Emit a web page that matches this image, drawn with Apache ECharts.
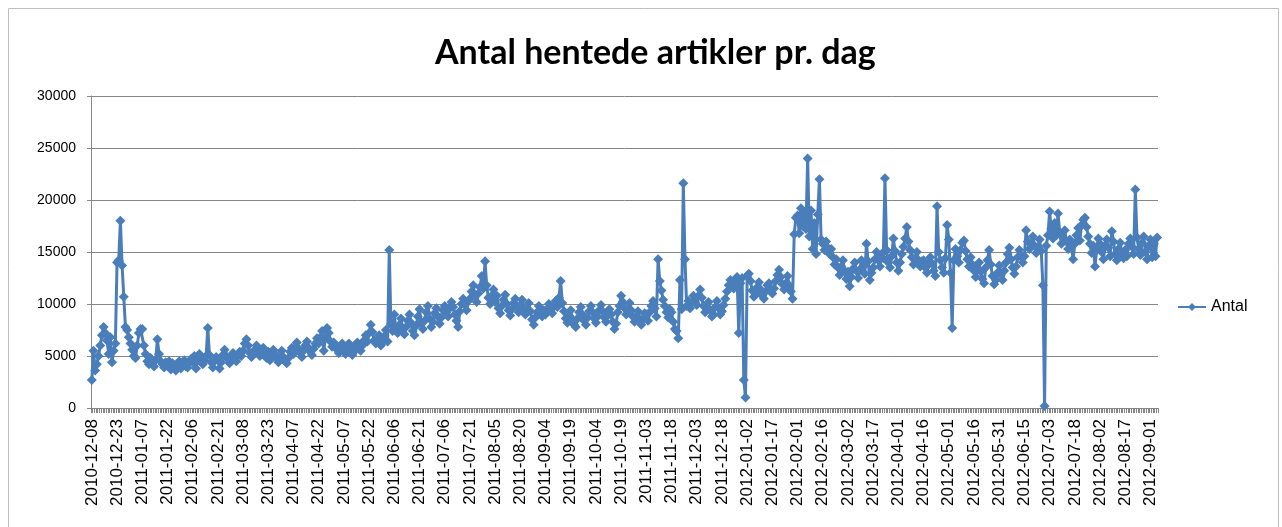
<!DOCTYPE html>
<html>
<head>
<meta charset="utf-8">
<script src="https://cdn.jsdelivr.net/npm/echarts@6/dist/echarts.min.js"></script>
<style>
  html, body { margin: 0; padding: 0; background: #fff; }
  #chart { width: 1282px; height: 527px; }
</style>
</head>
<body>
<div id="chart"></div>
<script>
// datoer der vises som akse-labels (hver 15. kategori)
var labelDates = [
  '2010-12-08', '2010-12-23', '2011-01-07', '2011-01-22', '2011-02-06', '2011-02-21',
  '2011-03-08', '2011-03-23', '2011-04-07', '2011-04-22', '2011-05-07', '2011-05-22',
  '2011-06-06', '2011-06-21', '2011-07-06', '2011-07-21', '2011-08-05', '2011-08-20',
  '2011-09-04', '2011-09-19', '2011-10-04', '2011-10-19', '2011-11-03', '2011-11-18',
  '2011-12-03', '2011-12-18', '2012-01-02', '2012-01-17', '2012-02-01', '2012-02-16',
  '2012-03-02', '2012-03-17', '2012-04-01', '2012-04-16', '2012-05-01', '2012-05-16',
  '2012-05-31', '2012-06-15', '2012-07-03', '2012-07-18', '2012-08-02', '2012-08-17',
  '2012-09-01'
];

// antal hentede artikler, en linje pr. label-periode
var antal = [
  2700, 5500, 3600, 4200, 5000, 6000, 7000, 7800, 7200, 6500, 5200, 6800, 4400, 5500, 6200,
  14000, 14200, 18000, 13700, 10700, 7800, 7500, 6800, 6200, 5600, 5000, 4800, 6000, 7200, 7600,
  7600, 6000, 5200, 4500, 4200, 4800, 4300, 4000, 4600, 6600, 5200, 4500, 4200, 3900, 4400,
  4100, 4500, 3700, 4300, 4000, 3600, 4200, 4500, 3800, 4100, 4600, 4000, 3900, 4400, 4700,
  4400, 5000, 3800, 4600, 5200, 4800, 4200, 4600, 5000, 7700, 5100, 4400, 3900, 4500, 4900,
  4600, 3800, 4400, 5100, 5600, 5000, 4700, 4300, 4900, 5300, 4800, 4500, 5000, 5400, 5000,
  5500, 6200, 6600, 6000, 5300, 4900, 5200, 5600, 6000, 5500, 5000, 5400, 5800, 5200, 4800,
  5400, 4600, 5000, 5600, 5200, 4800, 4400, 5000, 5500, 4900, 4500, 4300, 4800, 5400, 5800,
  5200, 5800, 6300, 5700, 5300, 4900, 5500, 6000, 6400, 5800, 5400, 5100, 5700, 6200, 6700,
  6200, 6800, 7400, 5500, 6700, 7700, 7200, 6400, 5900, 6300, 6000, 5600, 5300, 5800, 6200,
  5500, 5200, 5800, 6200, 5600, 5100, 5400, 6000, 6300, 5800, 5500, 6000, 6500, 7000, 6400,
  7200, 8000, 7300, 6500, 6200, 6600, 7000, 6000, 6300, 6900, 7500, 6400, 15200, 8000, 7400,
  9000, 7500, 7200, 8000, 8600, 7600, 7100, 7800, 8400, 9000, 8200, 7400, 7000, 7900, 8800,
  9500, 8200, 7600, 8400, 9200, 9800, 8600, 7800, 8300, 9100, 9600, 8800, 8100, 8700, 9400,
  9800, 9200, 8800, 9600, 10200, 9700, 9000, 8400, 7800, 9300, 10000, 10500, 9900, 9400, 10300,
  10500, 11200, 11800, 10800, 10200, 11000, 11600, 12700, 11500, 14100, 11800, 10600, 10000, 10800, 11400,
  10200, 10800, 9600, 9100, 9800, 10400, 10900, 10000, 9400, 8900, 9500, 10100, 10500, 9700, 9200,
  9900, 10400, 9600, 9000, 9500, 10100, 9300, 8500, 8000, 8700, 9200, 9800, 9300, 8800, 9400,
  9000, 9500, 10000, 9400, 9100, 9800, 10300, 9700, 10600, 12200, 10100, 9300, 8600, 8200, 8900,
  9400, 8500, 8000, 7800, 8600, 9200, 9700, 9000, 8400, 8000, 8700, 9300, 9800, 9200, 8600,
  8200, 8800, 9400, 9900, 9300, 8700, 8300, 8900, 9500, 9000, 8300, 7600, 8100, 9200, 9800,
  10800, 10200, 9600, 9000, 9500, 10100, 9400, 8800, 8300, 8800, 9300, 8600, 8000, 8500, 9100,
  9000, 8400, 9200, 9800, 10300, 9600, 8800, 14300, 12200, 11300, 10400, 9800, 9200, 8700, 9500,
  9200, 8300, 7600, 7400, 6700, 12300, 9500, 21600, 14300, 9800, 10300, 9600, 10100, 10800, 10200,
  9900, 10800, 11400, 10600, 9800, 9200, 9600, 10200, 9400, 8800, 9000, 9700, 10300, 9600, 9000,
  9300, 9900, 10500, 11200, 11800, 12300, 12000, 11500, 12400, 12600, 7200, 12000, 12500, 2700, 1000,
  12700, 12900, 12200, 11300, 10700, 11000, 11600, 12100, 11400, 10800, 10500, 11200, 11800, 12000, 11300,
  11000, 11500, 12200, 12800, 13300, 12600, 11900, 11400, 12000, 12700, 11800, 11200, 10500, 16700, 18300,
  18500, 16800, 19200, 17500, 18800, 17200, 24000, 16500, 19000, 15300, 17800, 14800, 18600, 22000, 16200,
  15800, 15200, 16000, 15400, 14800, 15300, 14500, 13800, 14300, 13500, 12800, 13600, 14200, 13200, 12400,
  13100, 11700, 12600, 13400, 14000, 13200, 12500, 13300, 14200, 13600, 12900, 15800, 14100, 12300, 13000,
  13500, 14300, 15000, 14200, 13600, 14800, 14400, 22100, 15200, 14000, 13500, 14600, 16300, 15100, 14000,
  13200, 14000, 14800, 15500, 16300, 17400, 16000, 15200, 14500, 13800, 14300, 15000, 14200, 13600, 14100,
  14200, 13500, 13000, 13800, 14500, 13900, 13200, 12700, 19400, 15000, 14200, 13500, 13000, 14400, 17600,
  16200, 13000, 7700, 14200, 15300, 14600, 14000, 15200, 15900, 16100, 15100, 14300, 13600, 14500, 13800,
  13200, 12600, 13400, 14000, 13100, 12400, 12000, 13500, 14200, 15200, 13800, 12700, 11900, 12300, 13000,
  13700, 12800, 12300, 13200, 14000, 14800, 15400, 14300, 13500, 12900, 13600, 14500, 15200, 14600, 14000,
  14600, 17100, 16000, 15300, 15800, 16500, 15600, 14900, 15400, 16200, 15100, 11800, 200, 15600, 16600,
  18900, 17200, 16300, 17800, 16600, 18700, 16900, 15800, 16400, 17100, 16000, 15300, 16200, 15500, 14300,
  15800, 16600, 17300, 16100, 17600, 18100, 18300, 17400, 16500, 15800, 14900, 15600, 13600, 15200, 16300,
  15800, 15000, 14300, 15600, 16200, 15400, 14600, 17000, 16000, 14800, 14200, 15300, 15900, 14700, 14400,
  15200, 14600, 15800, 16300, 15500, 14800, 21000, 16400, 15300, 14700, 15900, 16500, 15000, 14300, 15600,
  16200, 14500, 15800, 14600, 16400
];

// kategorier: label-dato + antal dage ind i perioden
function pad(n) { return n < 10 ? '0' + n : '' + n; }
var dage = [];
for (var i = 0; i < antal.length; i++) {
  var p = labelDates[Math.floor(i / 15)].split('-');
  var d = new Date(Date.UTC(+p[0], +p[1] - 1, +p[2] + (i % 15)));
  dage.push(d.getUTCFullYear() + '-' + pad(d.getUTCMonth() + 1) + '-' + pad(d.getUTCDate()));
}

var chart = echarts.init(document.getElementById('chart'));
var option = {
  animation: false,
  // diagramramme som i Excel
  graphic: [{
    type: 'rect',
    silent: true,
    shape: { x: 8.5, y: 8.5, width: 1270, height: 540 },
    style: { fill: null, stroke: '#bfbfbf', lineWidth: 1 }
  }],
  title: {
    text: 'Antal hentede artikler pr. dag',
    left: 430,
    top: 31,
    textStyle: { fontFamily: 'Lato', fontWeight: 'bold', fontSize: 34, color: '#000' }
  },
  legend: {
    data: ['Antal'],
    orient: 'vertical',
    left: 1172,
    top: 294,
    itemWidth: 28,
    itemHeight: 10,
    textStyle: { fontFamily: 'Liberation Sans', fontSize: 16, color: '#000' }
  },
  grid: { left: 91, right: 124, top: 96, bottom: 119 },
  xAxis: {
    type: 'category',
    data: dage,
    boundaryGap: true,
    axisLine: { lineStyle: { color: '#868686', width: 1 } },
    axisTick: { show: true, interval: 0, length: 5, lineStyle: { color: '#868686' } },
    axisLabel: {
      interval: 14,
      rotate: 90,
      margin: 11,
      fontFamily: 'Liberation Sans',
      fontSize: 17,
      color: '#000'
    }
  },
  yAxis: {
    type: 'value',
    min: 0,
    max: 30000,
    interval: 5000,
    axisLine: { show: true, lineStyle: { color: '#868686' } },
    axisTick: { show: true, length: 4, lineStyle: { color: '#868686' } },
    axisLabel: {
      fontFamily: 'Liberation Sans Narrow, Liberation Sans',
      fontSize: 14,
      color: '#000',
      margin: 15,
      formatter: function (v) { return '' + v; }
    },
    splitLine: { lineStyle: { color: '#868686', width: 1 } }
  },
  series: [{
    name: 'Antal',
    type: 'line',
    data: antal,
    symbol: 'diamond',
    symbolSize: 10,
    showAllSymbol: true,
    color: '#4a7ebb',
    lineStyle: { width: 3, color: '#4a7ebb' },
    itemStyle: { color: '#4a7ebb' }
  }]
};
chart.setOption(option);
</script>
</body>
</html>
